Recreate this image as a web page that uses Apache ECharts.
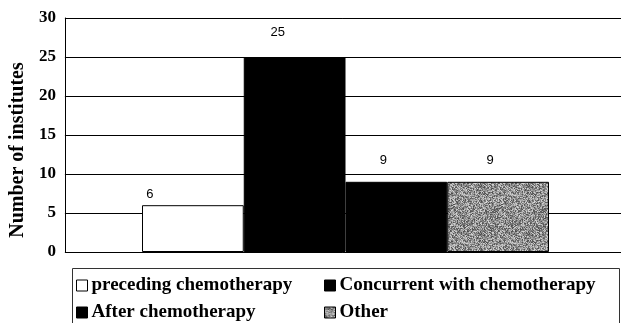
<!DOCTYPE html>
<html>
<head>
<meta charset="utf-8">
<script src="https://cdn.jsdelivr.net/npm/echarts@6/dist/echarts.min.js"></script>
<style>
  html, body { margin: 0; padding: 0; background: #fff; }
  #chart { width: 621px; height: 323px; }
</style>
</head>
<body>
<div id="chart"></div>
<script>
// Timing of radiotherapy relative to chemotherapy, by number of institutes
var categories = ['preceding chemotherapy', 'Concurrent with chemotherapy', 'After chemotherapy', 'Other'];
var institutes = [6, 25, 9, 9];
var yTicks = { min: 0, max: 30, interval: 5 };

// Per-bar label nudges (pixels) so the value labels sit where the printed figure has them
var labelNudges = [[-43, 1], [-17, -13], [-13, -10], [-8, -10]];

// Speckled grey fill for the "Other" bar, built from a fixed hash so it is the same every run
function speckle() {
  var c = document.createElement('canvas');
  c.width = 48; c.height = 48;
  var ctx = c.getContext('2d');
  var img = ctx.createImageData(48, 48);
  for (var y = 0; y < 48; y++) {
    for (var x = 0; x < 48; x++) {
      var h = (x * 374761393 + y * 668265263) | 0;
      h = Math.imul(h ^ (h >>> 13), 1274126177);
      h = (h ^ (h >>> 16)) >>> 0;
      var v = 75 + (h % 140);
      var i = (y * 48 + x) * 4;
      img.data[i] = v; img.data[i + 1] = v; img.data[i + 2] = v; img.data[i + 3] = 255;
    }
  }
  ctx.putImageData(img, 0, 0);
  return { image: c, repeat: 'repeat' };
}

var fills = ['#ffffff', '#000000', '#000000', speckle()];

var serif = '"Liberation Serif", "Times New Roman", serif';
var sans = '"Liberation Sans", Arial, sans-serif';

var series = categories.map(function (name, k) {
  return {
    name: name,
    type: 'bar',
    stack: 'timing',
    xAxisIndex: 1,
    yAxisIndex: 1,
    barWidth: '100%',
    data: institutes.map(function (v, j) { return j === k ? v : '-'; }),
    itemStyle: { color: fills[k], borderColor: '#000', borderWidth: 1 },
    label: {
      show: true,
      position: 'top',
      distance: 5,
      offset: labelNudges[k],
      color: '#000',
      fontFamily: sans,
      fontSize: 13
    }
  };
});

// One legend block per entry, laid out as a 2 x 2 table inside a framed box
var legendSpots = [
  { left: 76, top: 276 },
  { left: 324, top: 276 },
  { left: 76, top: 303 },
  { left: 324, top: 303 }
];
var legends = categories.map(function (name, k) {
  return {
    data: [name],
    left: legendSpots[k].left,
    top: legendSpots[k].top,
    padding: 0,
    itemWidth: 11,
    itemHeight: 11,
    icon: 'rect',
    selectedMode: false,
    itemStyle: { borderColor: '#000', borderWidth: 1 },
    textStyle: { fontFamily: serif, fontWeight: 'bold', fontSize: 19, color: '#000', padding: [0, 0, 0, -1] }
  };
});

var chart = echarts.init(document.getElementById('chart'), null, { renderer: 'canvas' });
chart.setOption({
  animation: false,
  backgroundColor: '#fff',
  grid: [
    { left: 64, right: 0, top: 18, bottom: 71 },
    { left: 142, width: 407, top: 18, bottom: 71 }
  ],
  xAxis: [
    { gridIndex: 0, type: 'value', min: 0, max: 1, show: false },
    { gridIndex: 1, type: 'category', data: categories, boundaryGap: true, show: false }
  ],
  yAxis: [
    {
      gridIndex: 0,
      type: 'value',
      min: yTicks.min, max: yTicks.max, interval: yTicks.interval,
      name: 'Number of institutes',
      nameLocation: 'middle',
      nameGap: 36,
      nameTextStyle: { fontFamily: serif, fontWeight: 'bold', fontSize: 20, color: '#000', padding: [0, 30, 0, 0] },
      axisLine: { show: true, lineStyle: { color: '#000', width: 1 } },
      axisTick: { show: false },
      axisLabel: { fontFamily: serif, fontWeight: 'bold', fontSize: 17, color: '#000', margin: 9 },
      splitLine: { show: true, lineStyle: { color: '#000', width: 1 } }
    },
    {
      gridIndex: 1,
      type: 'value',
      min: yTicks.min, max: yTicks.max, interval: yTicks.interval,
      show: false,
      splitLine: { show: false }
    }
  ],
  legend: legends,
  graphic: [
    {
      type: 'rect',
      shape: { x: 72.5, y: 268.5, width: 547, height: 80 },
      style: { fill: 'none', stroke: '#333', lineWidth: 1 },
      silent: true
    }
  ],
  series: series
});
</script>
</body>
</html>
